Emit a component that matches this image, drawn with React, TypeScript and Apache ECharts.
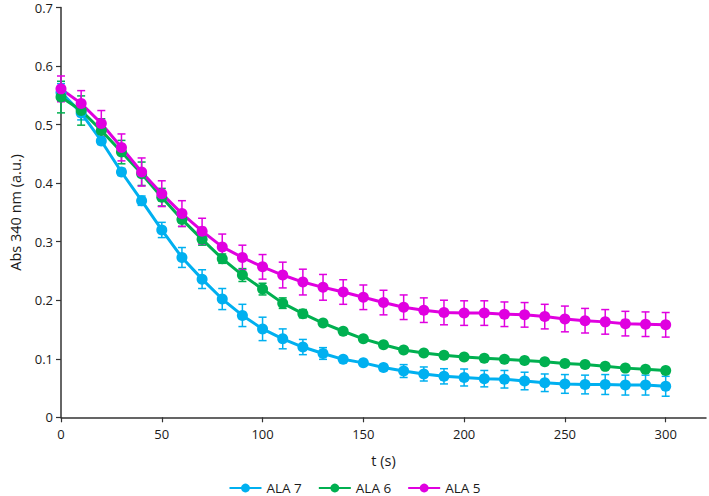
import React, { useEffect, useRef } from "react";
import * as echarts from "echarts";

const times = [0, 10, 20, 30, 40, 50, 60, 70, 80, 90, 100, 110, 120, 130, 140, 150, 160, 170, 180, 190, 200, 210, 220, 230, 240, 250, 260, 270, 280, 290, 300];

const ala7 = [0.555, 0.52, 0.472, 0.419, 0.37, 0.32, 0.273, 0.236, 0.202, 0.174, 0.151, 0.134, 0.12, 0.109, 0.099, 0.093, 0.085, 0.079, 0.074, 0.07, 0.068, 0.066, 0.065, 0.062, 0.059, 0.057, 0.056, 0.056, 0.055, 0.055, 0.053];
const ala7Err = [0.015, 0.012, 0.006, 0.006, 0.008, 0.013, 0.017, 0.016, 0.018, 0.019, 0.02, 0.017, 0.013, 0.01, 0.004, 0.004, 0.005, 0.011, 0.012, 0.013, 0.0145, 0.014, 0.015, 0.015, 0.015, 0.016, 0.016, 0.017, 0.017, 0.017, 0.017];

const ala6 = [0.547, 0.524, 0.49, 0.453, 0.416, 0.376, 0.338, 0.304, 0.271, 0.243, 0.219, 0.195, 0.177, 0.161, 0.147, 0.134, 0.124, 0.115, 0.11, 0.106, 0.103, 0.101, 0.099, 0.097, 0.095, 0.092, 0.09, 0.087, 0.084, 0.082, 0.08];
const ala6Err = [0.027, 0.025, 0.02, 0.02, 0.02, 0.015, 0.012, 0.01, 0.008, 0.011, 0.01, 0.009, 0.007, 0.005, 0.004, 0.003, 0.003, 0.003, 0.003, 0.003, 0.003, 0.002, 0.002, 0.002, 0.002, 0.002, 0.002, 0.002, 0.002, 0.002, 0.002];

const ala5 = [0.561, 0.536, 0.502, 0.461, 0.419, 0.382, 0.348, 0.318, 0.291, 0.273, 0.257, 0.243, 0.231, 0.222, 0.214, 0.205, 0.196, 0.188, 0.183, 0.179, 0.178, 0.178, 0.176, 0.175, 0.172, 0.168, 0.165, 0.163, 0.16, 0.159, 0.158];
const ala5Err = [0.022, 0.022, 0.022, 0.023, 0.024, 0.022, 0.022, 0.022, 0.022, 0.021, 0.021, 0.022, 0.022, 0.022, 0.021, 0.021, 0.021, 0.021, 0.021, 0.021, 0.021, 0.021, 0.021, 0.021, 0.021, 0.022, 0.021, 0.021, 0.021, 0.021, 0.021];

const xTickLabels = [0, 50, 100, 150, 200, 250, 300];

const seriesDefs = [
  { name: "ALA 7", values: ala7, errs: ala7Err, color: "#00B0F0" },
  { name: "ALA 6", values: ala6, errs: ala6Err, color: "#00B050" },
  { name: "ALA 5", values: ala5, errs: ala5Err, color: "#E000E0" },
];

const FONT = "'Open Sans', 'Noto Sans', sans-serif";
const TEXT = "#1a1a1a";

export default function App() {
  const ref = useRef<HTMLDivElement>(null);
  useEffect(() => {
    if (!ref.current) return;
    const chart = echarts.init(ref.current, null, { renderer: "svg" });
    const series: any[] = [];
    seriesDefs.forEach((s) => {
      series.push({
        name: s.name,
        type: "line",
        data: times.map((t, i) => [t, s.values[i]]),
        symbol: "circle",
        symbolSize: 11,
        lineStyle: { width: 3, color: s.color },
        itemStyle: { color: s.color },
        z: 3,
      });
      series.push({
        name: s.name + " err",
        type: "custom",
        data: times.map((t, i) => [t, s.values[i] - s.errs[i], s.values[i] + s.errs[i]]),
        renderItem: (params: any, api: any) => {
          const x = api.value(0);
          const p1 = api.coord([x, api.value(1)]);
          const p2 = api.coord([x, api.value(2)]);
          const hw = 4;
          const st = { stroke: s.color, lineWidth: 1.5 };
          return {
            type: "group",
            children: [
              { type: "line", shape: { x1: p1[0], y1: p1[1], x2: p2[0], y2: p2[1] }, style: st },
              { type: "line", shape: { x1: p1[0] - hw, y1: p1[1], x2: p1[0] + hw, y2: p1[1] }, style: st },
              { type: "line", shape: { x1: p2[0] - hw, y1: p2[1], x2: p2[0] + hw, y2: p2[1] }, style: st },
            ],
          };
        },
        z: 3,
        silent: true,
      });
    });

    chart.setOption({
      animation: false,
      backgroundColor: "#ffffff",
      textStyle: { fontFamily: FONT },
      grid: { left: 55.7, right: 3, top: 7.5, bottom: 78.7, containLabel: false },
      legend: {
        data: seriesDefs.map((s) => s.name),
        left: "center",
        top: 481,
        padding: 0,
        itemWidth: 32,
        itemHeight: 11,
        itemGap: 16,
        textStyle: { fontFamily: FONT, fontSize: 13.5, color: TEXT, lineHeight: 13 },
      },
      xAxis: {
        type: "value",
        min: 0,
        max: 320,
        interval: 50,
        name: "t (s)",
        nameLocation: "middle",
        nameGap: 36,
        nameTextStyle: { fontFamily: FONT, fontSize: 14.5, color: TEXT },
        axisLine: { lineStyle: { color: "#333", width: 1.5 } },
        axisTick: { show: true, length: 5, lineStyle: { color: "#333", width: 1.2 }, customValues: xTickLabels },
        axisLabel: { fontFamily: FONT, fontSize: 13, color: TEXT, margin: 10, customValues: xTickLabels },
        splitLine: { show: false },
      },
      yAxis: {
        type: "value",
        min: 0,
        max: 0.7,
        interval: 0.1,
        name: "Abs 340 nm (a.u.)",
        nameLocation: "middle",
        nameGap: 38,
        nameTextStyle: { fontFamily: FONT, fontSize: 14.5, color: TEXT },
        axisLine: { show: true, lineStyle: { color: "#333", width: 1.5 } },
        axisTick: { show: true, length: 5, lineStyle: { color: "#333", width: 1.2 } },
        axisLabel: { fontFamily: FONT, fontSize: 13, color: TEXT, margin: 8, lineHeight: 13 },
        splitLine: { show: false },
      },
      series,
    });
    return () => chart.dispose();
  }, []);
  return <div ref={ref} style={{ position: "fixed", left: 0, top: 0, width: 709, height: 496 }} />;
}
